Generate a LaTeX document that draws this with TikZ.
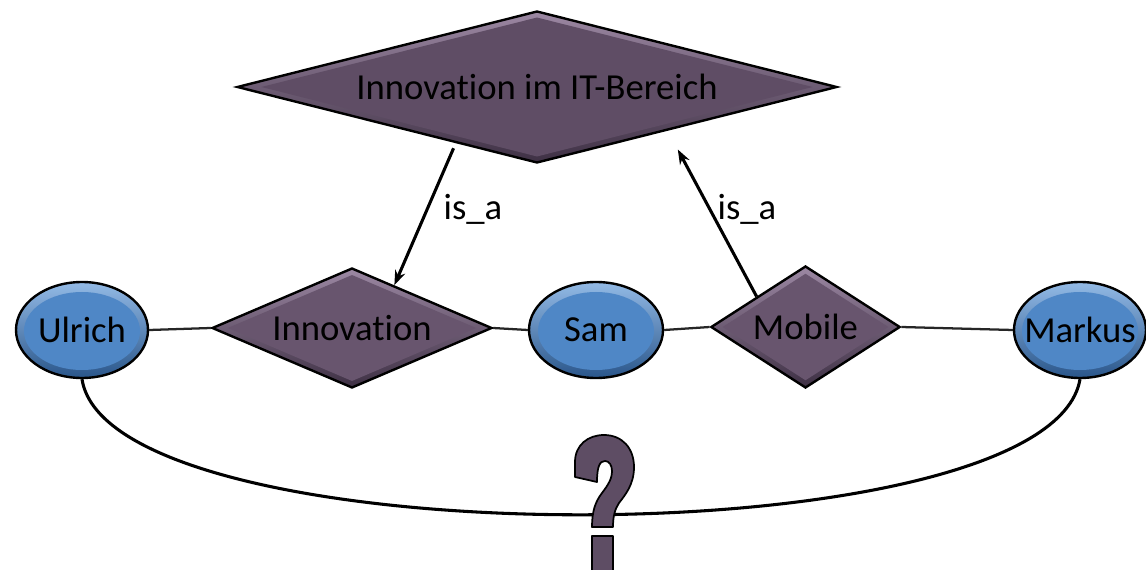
\documentclass[tikz,border=0pt]{standalone}
\usepackage{fontspec}
\setmainfont{Carlito}[Ligatures=NoCommon]
\usetikzlibrary{shapes.geometric,arrows.meta,calc}
\definecolor{dTop}{HTML}{9C88A3}
\definecolor{dBot}{HTML}{3E3044}
\definecolor{dIn}{HTML}{68556E}
\definecolor{dInBig}{HTML}{5F4D65}
\definecolor{eTop}{HTML}{93BAE6}
\definecolor{eBot}{HTML}{2A568A}
\definecolor{eIn}{HTML}{4F87C6}
\definecolor{qFill}{HTML}{5E4D64}
\newcommand{\lblfont}{\fontsize{27.5}{33}\selectfont}
\newcommand{\zw}[1]{\makebox[0pt]{#1}}
\tikzset{
  ent/.style={ellipse, draw=black, line width=1.8pt, minimum width=99pt,
    minimum height=72pt, inner sep=0pt, top color=eTop, bottom color=eBot,
    font=\lblfont,
    path picture={\fill[eIn] ($(path picture bounding box.center)+(0,1)$) ellipse [x radius=58, y radius=39];}},
  rel/.style 2 args={diamond, draw=black, line width=1.8pt, inner sep=0pt,
    top color=dTop, bottom color=dBot, font=\lblfont,
    path picture={\fill[#2]
      ($(path picture bounding box.center)!#1!(path picture bounding box.north)$) --
      ($(path picture bounding box.center)!#1!(path picture bounding box.east)$) --
      ($(path picture bounding box.center)!#1!(path picture bounding box.south)$) --
      ($(path picture bounding box.center)!#1!(path picture bounding box.west)$) -- cycle;}},
  link/.style={line width=1.7pt, draw=black!85},
  isa/.style={line width=2.3pt, -{Stealth[length=11pt,width=8pt]}},
  lbl/.style={font=\lblfont, inner sep=0pt, anchor=base},
  qmark/.style={fill=qFill, draw=black, line width=1.3pt, line join=round}
}
\begin{document}
\begin{tikzpicture}[x=0.75pt,y=-0.75pt]
\useasboundingbox (0,0) rectangle (1146,570);

% entities and relationships
\node[rel={0.92}{dInBig}, minimum width=450pt, minimum height=114pt, aspect=3.9] (B) at (537,87) {\zw{Innovation im IT-Bereich}};
\node[rel={0.89}{dIn}, minimum width=210pt, minimum height=90pt, aspect=2.3] (I) at (352,328) {\zw{Innovation}};
\node[rel={0.88}{dIn}, minimum width=142pt, minimum height=91.5pt, aspect=1.55] (Mo) at (805.5,327) {\zw{Mobile}};
\node[ent] (U) at (82,330) {\zw{Ulrich}};
\node[ent, minimum width=100.5pt] (S) at (596,330) {\zw{Sam}};
\node[ent] (Mk) at (1080,330) {\zw{Markus}};

% horizontal connectors
\draw[link] (U.east) -- (I.west);
\draw[link] (I.east) -- (S.west);
\draw[link] (S.east) -- (Mo.west);
\draw[link] (Mo.east) -- (Mk.west);

% is_a arrows
\coordinate (a1s) at ($(B.west)!0.73!(B.south)$);
\coordinate (a1e) at ($(I.north)!0.3!(I.east)$);
\draw[isa, shorten <=4pt] (a1s) -- (a1e);
\coordinate (a2s) at ($(Mo.north)!0.51!(Mo.west)$);
\coordinate (a2e) at ($(B.south)!0.434!(B.east)$);
\draw[isa, shorten >=16pt] (a2s) -- (a2e);
\node[lbl] (L1) at (473,220) {is\_a};
\node[lbl] (L2) at (747,220) {is\_a};

% curved connector
\draw[line width=2.3pt] (U.south) .. controls (110,560) and (1050,560) .. (Mk.south);

% question mark
\filldraw[qmark] (575,477) -- (575,462)
  .. controls (575,445) and (588,435) .. (604,435)
  .. controls (622,435) and (634,448) .. (634,467)
  .. controls (634,485) and (625,495) .. (619,503)
  .. controls (615,509) and (613,516) .. (613,527)
  -- (592,527)
  .. controls (592,512) and (595,502) .. (602,493)
  .. controls (608,485) and (612,479) .. (612,471)
  .. controls (612,465) and (609,461) .. (605,461)
  .. controls (600,461) and (597,466) .. (597,482) -- cycle;
\filldraw[qmark] (592,536) rectangle (613,575);
\end{tikzpicture}
\end{document}
